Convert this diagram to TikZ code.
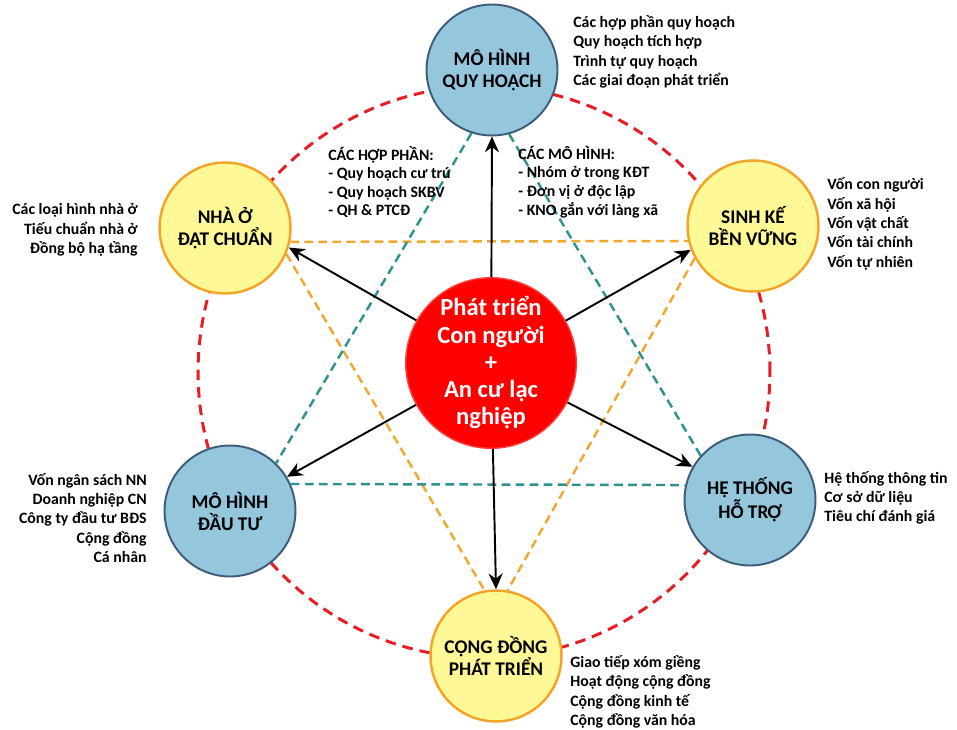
\documentclass[tikz,border=0pt]{standalone}
\usepackage{fontspec}
\setmainfont{Carlito}
\usepackage{xcolor}
\usetikzlibrary{arrows.meta}

\definecolor{planblue}{RGB}{148,198,220}
\definecolor{planedge}{RGB}{62,92,122}
\definecolor{lightyel}{RGB}{255,248,150}
\definecolor{yeledge}{RGB}{242,165,40}
\definecolor{ringred}{RGB}{232,28,36}
\definecolor{tealdash}{RGB}{48,145,145}
\definecolor{orgdash}{RGB}{240,168,48}

\begin{document}
\begin{tikzpicture}[x=0.02cm, y=-0.02cm,
    bluecirc/.style={circle, draw=planedge, fill=planblue, line width=1.1pt, minimum size=2.62cm, inner sep=0pt, align=center, font=\bfseries\fontsize{11}{12.5}\selectfont},
    yelcirc/.style={circle, draw=yeledge, fill=lightyel, line width=1.4pt, minimum size=2.62cm, inner sep=0pt, align=center, font=\bfseries\fontsize{11}{12.5}\selectfont},
    corecirc/.style={circle, draw=red!75, fill=red, line width=0.8pt, minimum size=3.4cm, inner sep=0pt, align=center, text=white, font=\bfseries\fontsize{14}{15.5}\selectfont},
    note/.style={inner sep=0pt, font=\bfseries\fontsize{9}{11}\selectfont},
    arr/.style={-{Stealth[length=9pt, width=8pt]}, line width=1.1pt},
    ringline/.style={ringred, line width=1.7pt, dash pattern=on 6pt off 4pt},
    tealline/.style={tealdash, line width=1.4pt, dash pattern=on 5pt off 3pt},
    orgline/.style={orgdash, line width=1.4pt, dash pattern=on 5pt off 3pt},
  ]
    \useasboundingbox (0,0) rectangle (957,730);

    % --- outer ring ---
    \coordinate (hub) at (484,372);
    \draw[ringline] (hub) circle[radius=5.72cm];

    % --- circles ---
    \node[bluecirc] (quy) at (492,70) {MÔ HÌNH\\QUY HOẠCH};
    \node[yelcirc] (nha) at (225,228) {NHÀ Ở\\ĐẠT CHUẨN};
    \node[yelcirc] (sinh) at (753,226) {SINH KẾ\\BỀN VỮNG};
    \node[bluecirc] (dau) at (230,511) {MÔ HÌNH\\ĐẦU TƯ};
    \node[bluecirc] (he) at (750,500) {HỆ THỐNG\\HỖ TRỢ};
    \node[yelcirc] (cong) at (496,656) {CỘNG ĐỒNG\\PHÁT TRIỂN};
    \node[corecirc] (core) at (491,363) {Phát triển\\Con người\\+\\An cư lạc\\nghiệp};

    % --- dashed triangles ---
    \draw[orgline] (nha.-12) -- (sinh.193);
    \draw[orgline] (nha.-23) -- (cong.100);
    \draw[orgline] (sinh.209) -- (cong.80);
    \draw[tealline] (quy.-108) -- (dau.46);
    \draw[tealline] (quy.-75) -- (he.138);
    \draw[tealline] (dau.24) -- (he.167);

    % --- arrows from the core ---
    \draw[arr] (core) -- (quy.south);
    \draw[arr] (core) -- (nha.-17);
    \draw[arr] (core) -- (sinh.201);
    \draw[arr] (core) -- (dau.31);
    \draw[arr] (core) -- (he.150);
    \draw[arr] (core) -- (cong.north);

    % --- notes ---
    \node[note, anchor=west, align=left] (nquy) at (573,52) {Các hợp phần quy hoạch\\Quy hoạch tích hợp\\Trình tự quy hoạch\\Các giai đoạn phát triển};
    \node[note, anchor=east, align=right] (nnha) at (138,230) {Các loại hình nhà ở\\Tiếu chuẩn nhà ở\\Đồng bộ hạ tầng};
    \node[note, anchor=west, align=left, font=\bfseries\fontsize{9}{10.6}\selectfont] (nhop) at (328,182) {CÁC HỢP PHẦN:\\- Quy hoạch cư trú\\- Quy hoạch SKBV\\- QH \& PTCĐ};
    \node[note, anchor=west, align=left, font=\bfseries\fontsize{9}{10.6}\selectfont] (nmo) at (518,182) {CÁC MÔ HÌNH:\\- Nhóm ở trong KĐT\\- Đơn vị ở độc lập\\- KNO gắn với làng xã};
    \node[note, anchor=west, align=left] (nsinh) at (827,224) {Vốn con người\\Vốn xã hội\\Vốn vật chất\\Vốn tài chính\\Vốn tự nhiên};
    \node[note, anchor=east, align=right] (ndau) at (147,518) {Vốn ngân sách NN\\Doanh nghiệp CN\\Công ty đầu tư BĐS\\Cộng đồng\\Cá nhân};
    \node[note, anchor=west, align=left] (nhe) at (824,498) {Hệ thống thông tin\\Cơ sở dữ liệu\\Tiêu chí đánh giá};
    \node[note, anchor=west, align=left] (ncong) at (570,692) {Giao tiếp xóm giềng\\Hoạt động cộng đồng\\Cộng đồng kinh tế\\Cộng đồng văn hóa};

\end{tikzpicture}
\end{document}
